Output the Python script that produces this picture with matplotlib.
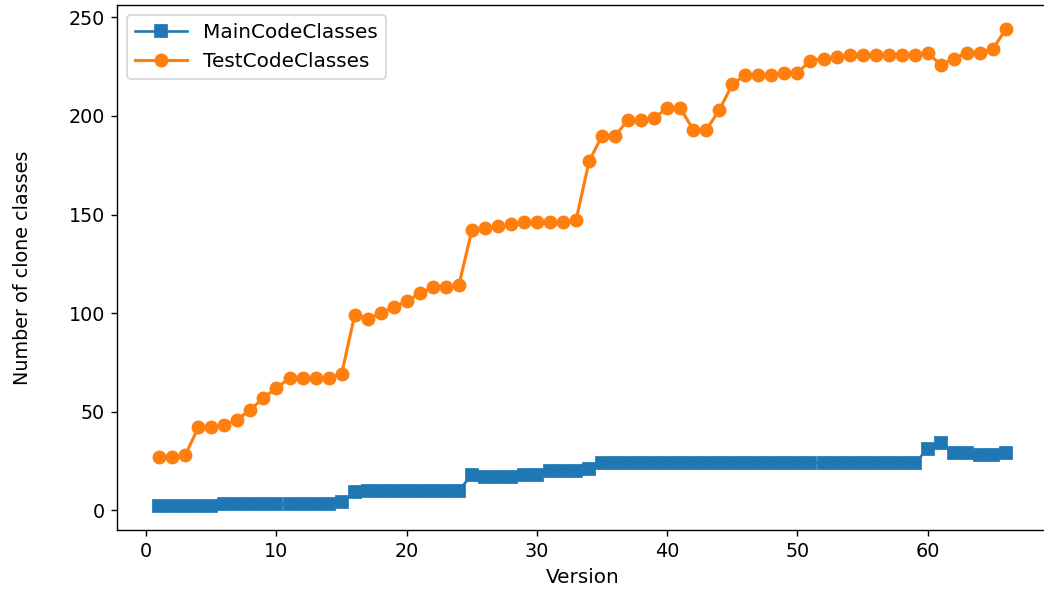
import matplotlib.pyplot as plt
import numpy as np

# clone class counts per version
versions = np.arange(1, 67)

main_classes = [2, 2, 2, 2, 2, 3, 3, 3, 3, 3,
                3, 3, 3, 3, 4, 9, 10, 10, 10, 10,
                10, 10, 10, 10, 18, 17, 17, 17, 18, 18,
                20, 20, 20, 21, 24, 24, 24, 24, 24, 24,
                24, 24, 24, 24, 24, 24, 24, 24, 24, 24,
                24, 24, 24, 24, 24, 24, 24, 24, 24, 31,
                34, 29, 29, 28, 28, 29]

test_classes = [27, 27, 28, 42, 42, 43, 46, 51, 57, 62,
                67, 67, 67, 67, 69, 99, 97, 100, 103, 106,
                110, 113, 113, 114, 142, 143, 144, 145, 146, 146,
                146, 146, 147, 177, 190, 190, 198, 198, 199, 204,
                204, 193, 193, 203, 216, 221, 221, 221, 222, 222,
                228, 229, 230, 231, 231, 231, 231, 231, 231, 232,
                226, 229, 232, 232, 234, 244]

fig = plt.figure(figsize=(8.352, 4.776), dpi=125)
ax = fig.add_axes([0.112, 0.112, 0.892, 0.879])

ax.plot(versions, main_classes, marker='s', markersize=7, label='MainCodeClasses')
ax.plot(versions, test_classes, marker='o', markersize=7, linewidth=1.8, label='TestCodeClasses')

# right edge of the frame runs off the canvas
ax.spines['right'].set_visible(False)

ax.tick_params(labelsize=11)
ax.set_xlabel('Version', fontsize=11.5)
ax.set_ylabel('Number of clone classes', fontsize=11)
ax.yaxis.set_label_coords(-0.091, 0.5)
ax.legend(loc='upper left', fontsize=11.5, handlelength=2.6)

plt.savefig('out.png', dpi=125)
